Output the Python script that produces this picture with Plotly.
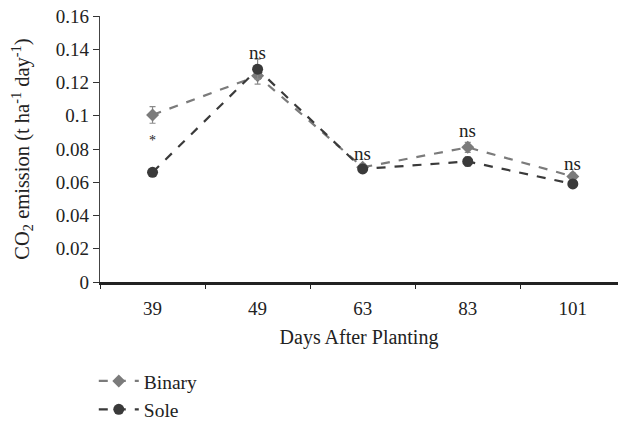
import plotly.graph_objects as go

days = ["39", "49", "63", "83", "101"]
binary = [0.1005, 0.124, 0.069, 0.081, 0.0635]
binary_err = [0.005, 0.005, 0.002, 0.003, 0.002]
sole = [0.066, 0.128, 0.068, 0.0725, 0.059]
sole_err = [0.002, 0.006, 0.002, 0.003, 0.002]
sig_labels = ["*", "ns", "ns", "ns", "ns"]
sig_y = [0.085, 0.138, 0.0775, 0.091, 0.071]

FONT = "Liberation Serif, Times New Roman, serif"
TXT = "#222222"
XMAX = 4.43
fig = go.Figure()
fig.add_trace(go.Scatter(
    x=days, y=binary, name="Binary", mode="lines+markers",
    line=dict(color="#7b7b7b", width=2.2, dash="dash"),
    marker=dict(symbol="diamond", size=10, color="#7b7b7b"),
    error_y=dict(type="data", array=binary_err, color="#8a8a8a", thickness=1.2, width=3),
))
fig.add_trace(go.Scatter(
    x=days, y=sole, name="Sole", mode="lines+markers",
    line=dict(color="#3a3a3a", width=2.2, dash="dash"),
    marker=dict(symbol="circle", size=11, color="#3a3a3a"),
    error_y=dict(type="data", array=sole_err, color="#8a8a8a", thickness=1.2, width=3),
))
# empty trace so the tick-mark overlay axis is drawn
fig.add_trace(go.Scatter(x=[], y=[], xaxis="x2", yaxis="y", showlegend=False, hoverinfo="skip"))
for i, (lab, yy) in enumerate(zip(sig_labels, sig_y)):
    fig.add_annotation(x=i, y=yy, xref="x", yref="y", text=lab, showarrow=False,
                       font=dict(family=FONT, size=19 if lab == "ns" else 14, color=TXT))

fig.update_layout(
    width=618, height=421,
    margin=dict(l=100, r=0, t=16, b=139, autoexpand=False),
    paper_bgcolor="white", plot_bgcolor="white",
    font=dict(family=FONT, size=19, color=TXT),
    showlegend=True,
    legend=dict(x=-0.012, y=-0.30, xanchor="left", yanchor="top",
                font=dict(family=FONT, size=19.5, color=TXT),
                tracegroupgap=10, itemwidth=40),
    xaxis=dict(type="category", range=[-0.5, XMAX],
               ticks="", ticklabelstandoff=7, automargin=False,
               tickfont=dict(family=FONT, size=19, color=TXT),
               showline=True, linecolor=TXT, linewidth=2.5,
               showgrid=False, zeroline=False,
               title=dict(text="Days After Planting", standoff=13,
                          font=dict(family=FONT, size=20, color=TXT))),
    xaxis2=dict(overlaying="x", anchor="y", side="bottom", type="linear",
                range=[-0.5, XMAX], tickmode="linear", tick0=-0.5, dtick=1,
                ticks="outside", ticklen=6, tickcolor=TXT, tickwidth=1.3,
                showticklabels=False, showline=False, showgrid=False,
                zeroline=False, automargin=False),
    yaxis=dict(range=[0, 0.16],
               tickvals=[0, 0.02, 0.04, 0.06, 0.08, 0.1, 0.12, 0.14, 0.16],
               ticktext=["0", "0.02", "0.04", "0.06", "0.08", "0.1", "0.12", "0.14", "0.16"],
               ticks="outside", ticklen=6, tickcolor="#333", tickwidth=1.3,
               automargin=False,
               tickfont=dict(family=FONT, size=19, color=TXT),
               showline=True, linecolor="#444", linewidth=1.2,
               showgrid=False, zeroline=False,
               title=dict(text="CO<sub>2</sub> emission (t ha<sup>-1</sup> day<sup>-1</sup>)",
                          standoff=20, font=dict(family=FONT, size=20.5, color=TXT))),
)
fig.write_html("out.html")
